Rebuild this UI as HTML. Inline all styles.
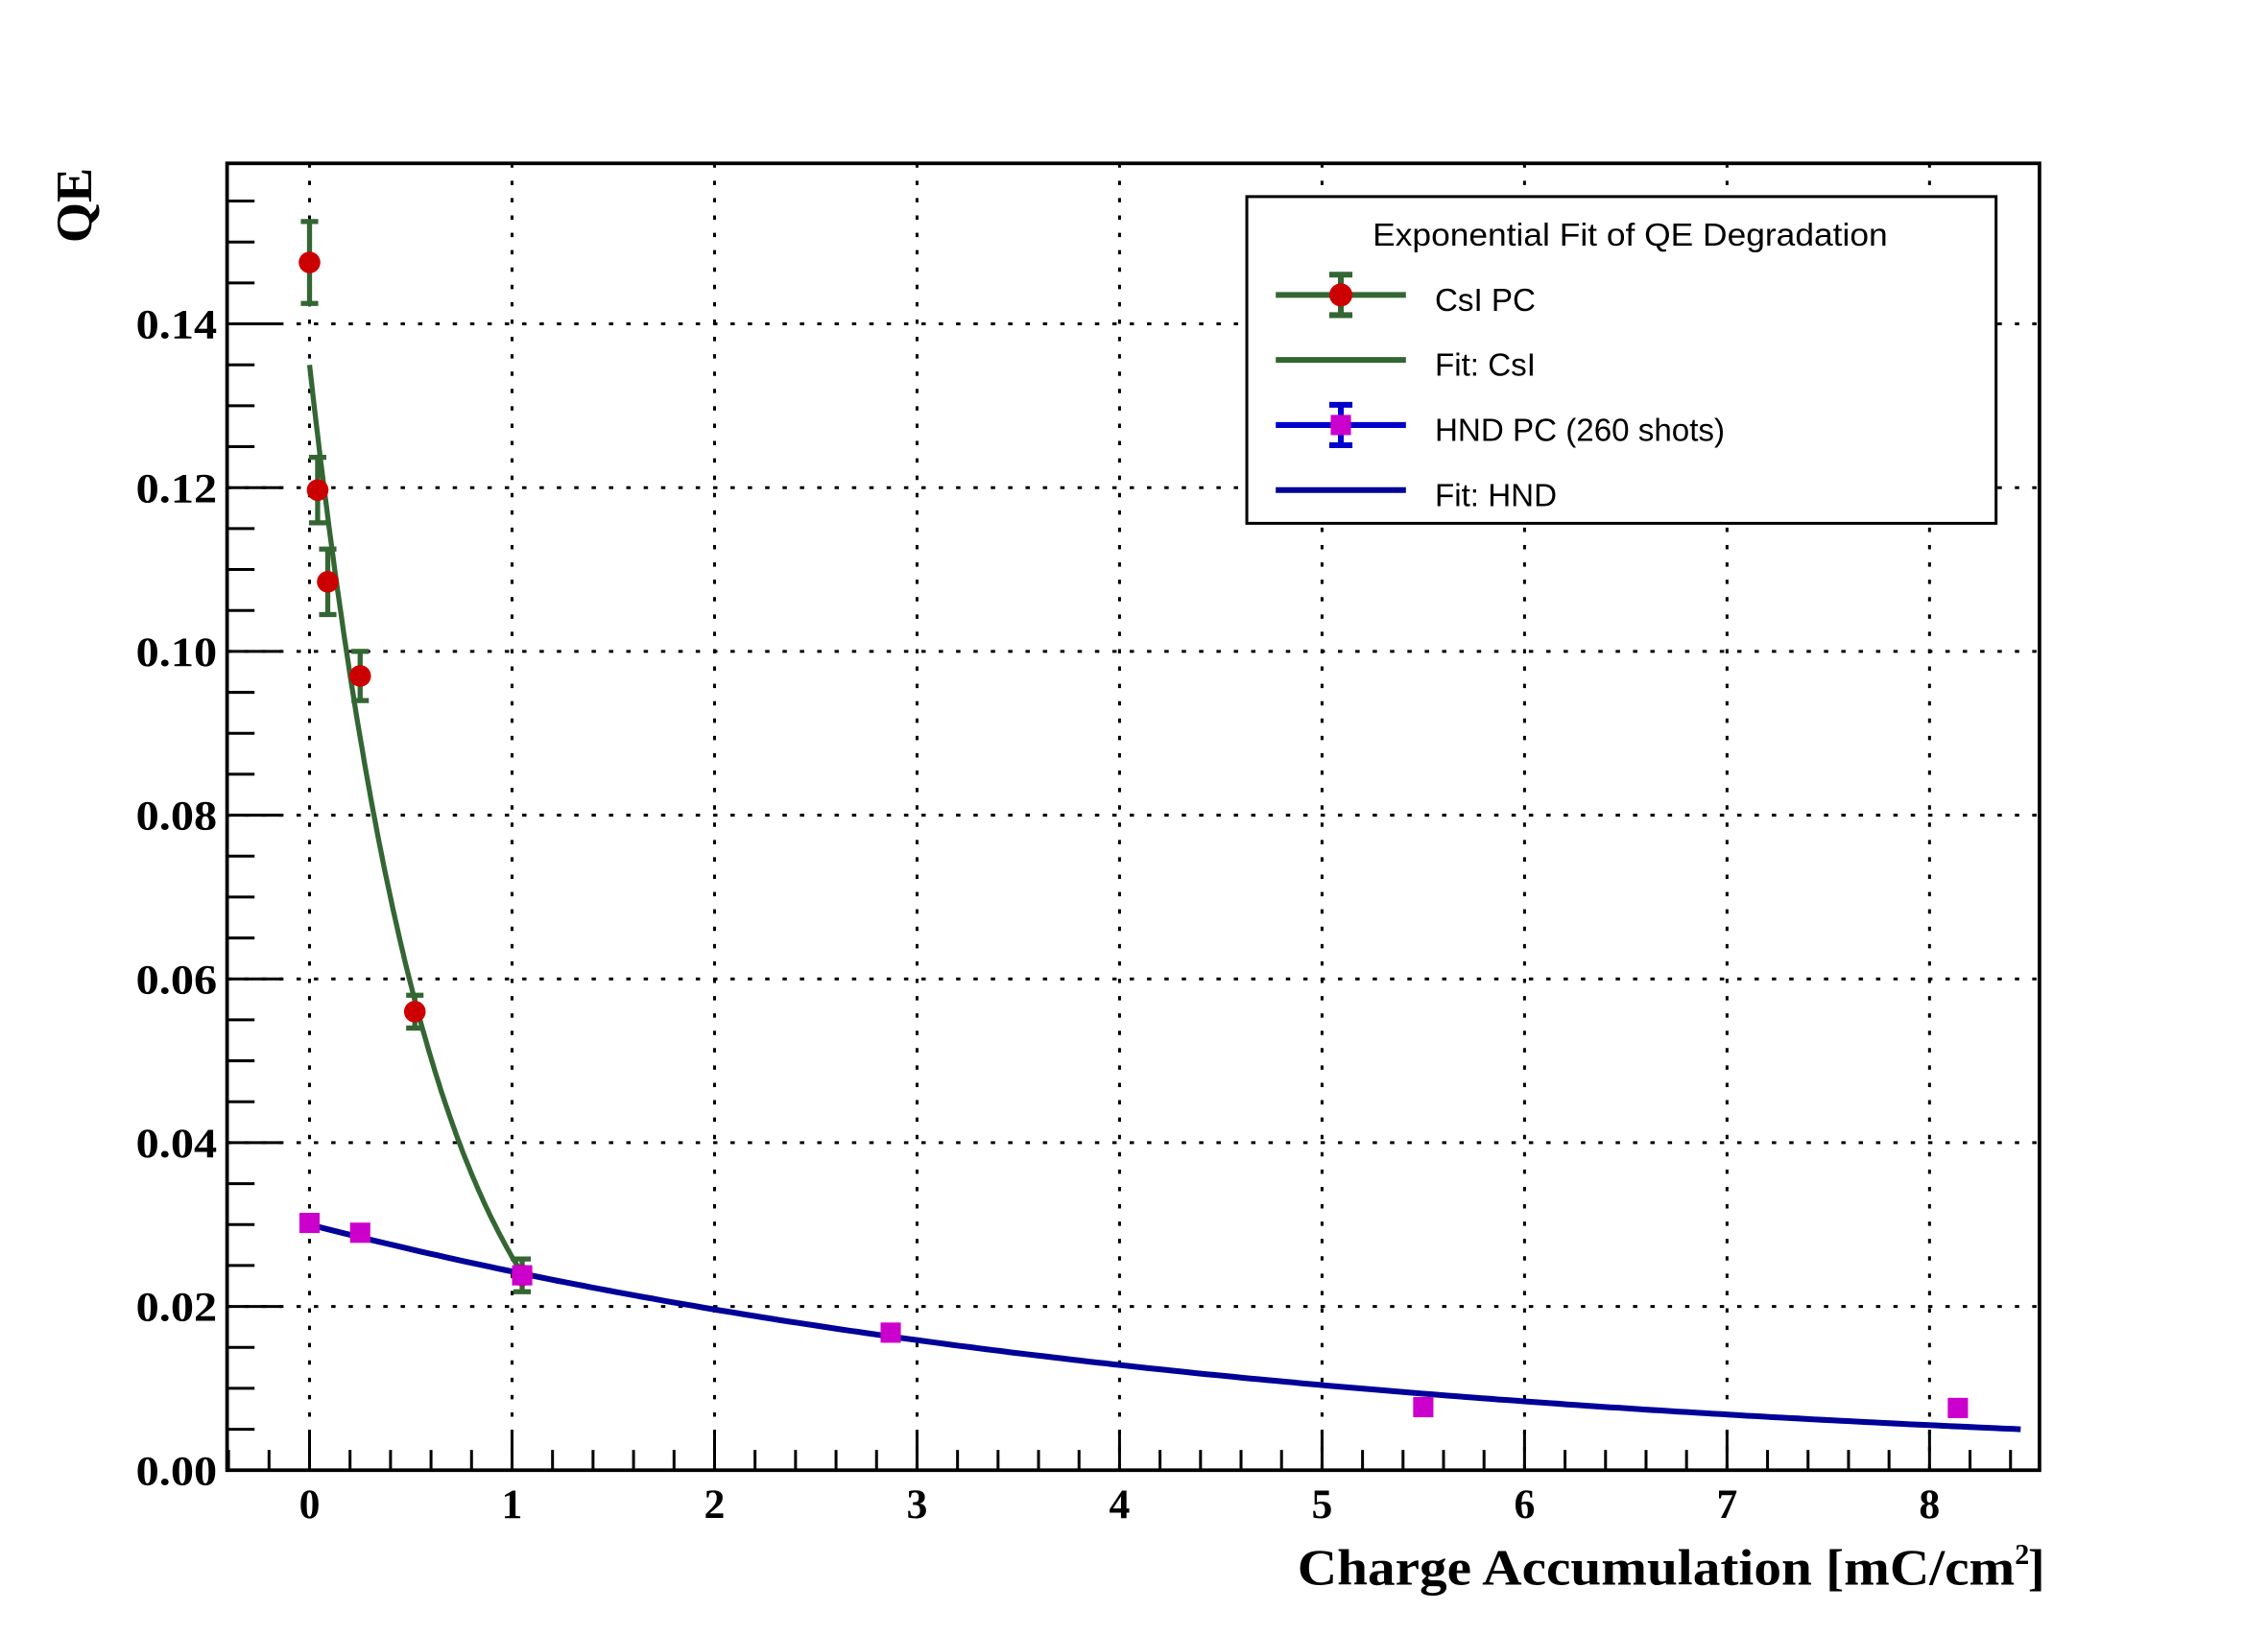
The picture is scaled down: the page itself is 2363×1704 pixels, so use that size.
<!DOCTYPE html>
<html><head><meta charset="utf-8"><style>html,body{margin:0;padding:0;background:#fff}svg{display:block}</style></head>
<body>
<svg id="s" width="2363" height="1704" viewBox="0 0 1568 1131" preserveAspectRatio="none" xmlns="http://www.w3.org/2000/svg">
<rect width="1568" height="1131" fill="#fff"/>
<g id="grid" stroke="#000" stroke-width="2" stroke-dasharray="3,9"></g>
<g id="ticks" stroke="#000" stroke-width="2"></g>
<g id="labels" font-family="'Liberation Serif',serif" font-weight="bold" font-size="29" fill="#000"></g>
<g id="data"></g>
<rect x="157" y="113" width="1253" height="904" fill="none" stroke="#000" stroke-width="2.5"/>
<text x="897" y="1096" font-family="'Liberation Serif',serif" font-weight="bold" font-size="35" textLength="496" lengthAdjust="spacingAndGlyphs">Charge Accumulation [mC/cm</text>
<text x="1393" y="1082" font-family="'Liberation Serif',serif" font-weight="bold" font-size="20">2</text>
<text x="1402" y="1096" font-family="'Liberation Serif',serif" font-weight="bold" font-size="35">]</text>
<text transform="translate(63,168) rotate(-90)" font-family="'Liberation Serif',serif" font-weight="bold" font-size="35" textLength="52" lengthAdjust="spacingAndGlyphs">QE</text>
<g id="legend">
<rect x="862" y="136" width="518" height="226" fill="#fff" stroke="#000" stroke-width="2"/>
<g font-family="'Liberation Sans',sans-serif" font-size="22" fill="#000">
<text x="949" y="170" textLength="356" lengthAdjust="spacingAndGlyphs">Exponential Fit of QE Degradation</text>
<text x="992" y="215">CsI PC</text>
<text x="992" y="260">Fit: CsI</text>
<text x="992" y="305">HND PC (260 shots)</text>
<text x="992" y="350">Fit: HND</text>
</g>
<line x1="882" y1="204" x2="972" y2="204" stroke="#336633" stroke-width="4"/>
<line x1="927" y1="190" x2="927" y2="218" stroke="#336633" stroke-width="4"/>
<line x1="919" y1="190" x2="935" y2="190" stroke="#336633" stroke-width="4"/>
<line x1="919" y1="218" x2="935" y2="218" stroke="#336633" stroke-width="4"/>
<ellipse cx="927" cy="204" rx="8" ry="8" fill="#cc0000"/>
<line x1="882" y1="249" x2="972" y2="249" stroke="#336633" stroke-width="4"/>
<line x1="882" y1="294" x2="972" y2="294" stroke="#0000cc" stroke-width="4"/>
<line x1="927" y1="280" x2="927" y2="308" stroke="#0000cc" stroke-width="4"/>
<line x1="919" y1="280" x2="935" y2="280" stroke="#0000cc" stroke-width="4"/>
<line x1="919" y1="308" x2="935" y2="308" stroke="#0000cc" stroke-width="4"/>
<rect x="920" y="287" width="14" height="14" fill="#cc00cc"/>
<line x1="882" y1="339" x2="972" y2="339" stroke="#000099" stroke-width="4"/>
</g>
</svg>
<script>
const NS="http://www.w3.org/2000/svg";
const X=x=>214+140*x, Y=q=>1017-5664*q;
function el(p,t,a){const e=document.createElementNS(NS,t);for(const k in a)e.setAttribute(k,a[k]);document.getElementById(p).appendChild(e);return e;}
for(let i=0;i<=8;i++){el('grid','line',{x1:X(i),y1:113,x2:X(i),y2:1017});}
for(let j=1;j<=7;j++){el('grid','line',{x1:157,y1:Y(j*0.02),x2:1410,y2:Y(j*0.02)});}
for(let k=0;k<=40;k++){const q=k*0.005;const y=Y(q);if(y<115)break;const maj=k%4==0;el('ticks','line',{x1:157,y1:y,x2:157+(maj?38:19),y2:y});}
for(let k=-2;k<=42;k++){const x=X(k*0.2);if(x<157||x>1410)continue;const maj=k%5==0;el('ticks','line',{x1:x,y1:1017,x2:x,y2:1017-(maj?27:14)});}
for(let j=0;j<=7;j++){const t=el('labels','text',{x:150,y:Y(j*0.02)+10,'text-anchor':'end',textLength:56,lengthAdjust:'spacingAndGlyphs'});t.textContent=(j*0.02).toFixed(2);}
for(let i=0;i<=8;i++){const t=el('labels','text',{x:X(i),y:1050,'text-anchor':'middle'});t.textContent=i;}
let d='';for(let i=0;i<=100;i++){const x=1.05*i/100;d+=(i?'L':'M')+X(x).toFixed(1)+','+Y(0.135*Math.exp(-1.645*x)).toFixed(1);}
el('data','path',{d:d,fill:'none',stroke:'#336633','stroke-width':3.5});
d='';for(let i=0;i<=200;i++){const x=8.45*i/200;d+=(i?'L':'M')+X(x).toFixed(1)+','+Y(0.030*Math.exp(-0.212*x)).toFixed(1);}
el('data','path',{d:d,fill:'none',stroke:'#000099','stroke-width':4});
const cs=[[0,0.1475,0.005],[0.04,0.1197,0.004],[0.09,0.1085,0.004],[0.25,0.097,0.003],[0.52,0.056,0.002],[1.05,0.0238,0.002]];
for(const [x,q,e] of cs){const cx=X(x);el('data','line',{x1:cx,y1:Y(q+e),x2:cx,y2:Y(q-e),stroke:'#336633','stroke-width':3.5});
for(const s of [q+e,q-e])el('data','line',{x1:cx-6,y1:Y(s),x2:cx+6,y2:Y(s),stroke:'#336633','stroke-width':3.5});
el('data','circle',{cx:cx,cy:Y(q),r:7.5,fill:'#cc0000'});}
const hn=[[0,0.0302],[0.25,0.029],[1.05,0.0238],[2.87,0.0168],[5.5,0.0077],[8.14,0.0076]];
for(const [x,q] of hn){el('data','rect',{x:X(x)-7,y:Y(q)-7,width:14,height:14,fill:'#cc00cc'});}
</script>
</body></html>
